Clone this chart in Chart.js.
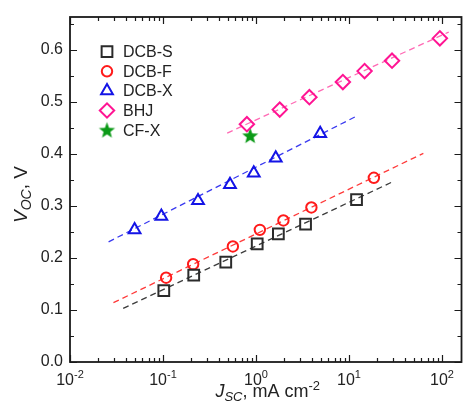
<!DOCTYPE html>
<html>
<head>
<meta charset="utf-8">
<script src="https://cdn.jsdelivr.net/npm/chart.js@4.4.1/dist/chart.umd.min.js"></script>
<style>
  html, body { margin: 0; padding: 0; background: #fff; }
</style>
</head>
<body>
<canvas id="vocChart" width="472" height="407"></canvas>
<script>
const FONT = '"Liberation Sans", Arial, sans-serif';

// short-circuit current density (mA cm-2) vs open-circuit voltage (V)
const dcbS_J = [0.102, 0.214, 0.473, 1.03, 1.74, 3.41, 12.05];
const dcbS_V = [0.137, 0.167, 0.192, 0.227, 0.246, 0.265, 0.312];
const dcbF_J = [0.108, 0.211, 0.564, 1.10, 1.97, 3.94, 18.5];
const dcbF_V = [0.162, 0.188, 0.222, 0.254, 0.272, 0.297, 0.354];
const dcbX_J = [0.0495, 0.096, 0.238, 0.525, 0.946, 1.63, 4.9];
const dcbX_V = [0.254, 0.280, 0.310, 0.341, 0.363, 0.392, 0.439];
const bhj_J = [0.798, 1.80, 3.75, 8.59, 14.7, 29.0, 94.8];
const bhj_V = [0.457, 0.485, 0.509, 0.538, 0.559, 0.579, 0.622];
const cfX_J = [0.865];
const cfX_V = [0.435];

// dashed guide lines (two end points each)
const fitS_J = [0.0373, 30];
const fitS_V = [0.103, 0.347];
const fitF_J = [0.0293, 63];
const fitF_V = [0.114, 0.401];
const fitX_J = [0.026, 11.9];
const fitX_V = [0.231, 0.472];
const fitB_J = [0.49, 118];
const fitB_V = [0.440, 0.634];

const xTickExp = [-2, -1, 0, 1, 2];
const yTickVals = [0, 0.1, 0.2, 0.3, 0.4, 0.5, 0.6];

function pts(xs, ys) {
    return xs.map((x, i) => ({ x: x, y: ys[i] }));
}

// filled five-point star for CF-X
function makeStar(r, color) {
    const s = Math.ceil(r * 2 + 2);
    const c = document.createElement('canvas');
    c.width = s;
    c.height = s;
    const g = c.getContext('2d');
    g.fillStyle = color;
    g.beginPath();
    for (let i = 0; i < 10; i++) {
        const rr = i % 2 === 0 ? r : r * 0.42;
        const a = -Math.PI / 2 + i * Math.PI / 5;
        const px = s / 2 + rr * Math.cos(a);
        const py = s / 2 + rr * Math.sin(a) + 0.6;
        if (i === 0) g.moveTo(px, py); else g.lineTo(px, py);
    }
    g.closePath();
    g.fill();
    return c;
}

function markerSet(label, xs, ys, color, style, radius) {
    return {
        label: label,
        data: pts(xs, ys),
        showLine: false,
        inLegend: true,
        pointStyle: style,
        pointRadius: radius,
        pointHoverRadius: radius,
        pointBorderColor: color,
        pointBackgroundColor: 'rgba(0,0,0,0)',
        pointBorderWidth: 2
    };
}

function fitSet(xs, ys, color) {
    return {
        label: '',
        data: pts(xs, ys),
        showLine: true,
        borderColor: color,
        borderWidth: 1.3,
        borderDash: [6, 4],
        pointRadius: 0,
        fill: false
    };
}

// inward ticks on all four sides, plus the frame
const axisFrame = {
    id: 'axisFrame',
    afterDatasetsDraw(chart) {
        const { ctx, chartArea: a, scales: { x, y } } = chart;
        ctx.save();
        ctx.strokeStyle = '#1a1a1a';
        ctx.lineWidth = 1.2;
        ctx.beginPath();
        for (let i = 0; i <= 13; i++) {
            const v = i * 0.05;
            if (v > y.max) break;
            const len = i % 2 === 0 ? 7 : 4;
            const py = Math.round(y.getPixelForValue(v)) + 0.5;
            ctx.moveTo(a.left, py); ctx.lineTo(a.left + len, py);
            ctx.moveTo(a.right, py); ctx.lineTo(a.right - len, py);
        }
        for (let e = -2; e <= 2; e++) {
            for (let m = 1; m <= 9; m++) {
                const v = m * Math.pow(10, e);
                if (v > x.max) break;
                const len = m === 1 ? 7 : 4;
                const px = Math.round(x.getPixelForValue(v)) + 0.5;
                ctx.moveTo(px, a.bottom); ctx.lineTo(px, a.bottom - len);
                ctx.moveTo(px, a.top); ctx.lineTo(px, a.top + len);
            }
        }
        ctx.stroke();
        ctx.lineWidth = 1.8;
        ctx.strokeRect(a.left, a.top, a.right - a.left, a.bottom - a.top);
        ctx.restore();
    }
};

// draws a run of text pieces: [text, size, italic, dy]
function drawRuns(ctx, runs, x, y, align) {
    const fontOf = r => (r[2] ? 'italic ' : '') + r[1] + 'px ' + FONT;
    let total = 0;
    runs.forEach(r => { ctx.font = fontOf(r); total += ctx.measureText(r[0]).width; });
    let cx = align === 'center' ? x - total / 2 : x;
    ctx.textAlign = 'left';
    ctx.textBaseline = 'alphabetic';
    runs.forEach(r => {
        ctx.font = fontOf(r);
        ctx.fillText(r[0], cx, y + r[3]);
        cx += ctx.measureText(r[0]).width;
    });
}

const labelsAndLegend = {
    id: 'labelsAndLegend',
    afterDraw(chart) {
        const { ctx, chartArea: a, scales: { x } } = chart;
        ctx.save();
        ctx.fillStyle = '#222';
        // x tick labels 10^n
        xTickExp.forEach(e => {
            const px = x.getPixelForValue(Math.pow(10, e));
            drawRuns(ctx, [['10', 16, false, 0], [String(e), 11, false, -7]], px, 385, 'center');
        });
        // x axis title
        drawRuns(ctx, [['J', 18, true, 0], ['SC', 13, true, 4], [', mA cm', 18, false, 0], ['-2', 13, false, -7]],
            (a.left + a.right) / 2 + 2, 397, 'center');
        // y axis title
        ctx.translate(27, (a.top + a.bottom) / 2 + 5);
        ctx.rotate(-Math.PI / 2);
        drawRuns(ctx, [['V', 19, true, 0], ['OC', 14, true, 4], [', V', 19, false, 0]], 0, 0, 'center');
        ctx.restore();

        // legend
        ctx.save();
        chart.data.datasets.filter(d => d.inLegend).forEach((d, i) => {
            const ly = 51.7 + i * 19.6;
            ctx.strokeStyle = d.pointBorderColor;
            ctx.fillStyle = d.pointBackgroundColor;
            ctx.lineWidth = d.pointBorderWidth;
            Chart.helpers.drawPoint(ctx, {
                pointStyle: d.pointStyle, radius: d.pointRadius,
                borderWidth: d.pointBorderWidth, rotation: 0
            }, 107, ly);
            ctx.fillStyle = '#222';
            ctx.font = '16px ' + FONT;
            ctx.textAlign = 'left';
            ctx.textBaseline = 'middle';
            ctx.fillText(d.label, 123, ly + 1);
        });
        ctx.restore();
    }
};

const star = makeStar(8.5, '#0b9a17');

new Chart(document.getElementById('vocChart'), {
    type: 'scatter',
    data: {
        datasets: [
            markerSet('DCB-S', dcbS_J, dcbS_V, '#2b2b2b', 'rect', 7.6),
            markerSet('DCB-F', dcbF_J, dcbF_V, '#ff1a1a', 'circle', 5.2),
            markerSet('DCB-X', dcbX_J, dcbX_V, '#1414e6', 'triangle', 6.8),
            markerSet('BHJ', bhj_J, bhj_V, '#ff1493', 'rectRot', 7.2),
            markerSet('CF-X', cfX_J, cfX_V, '#0b9a17', star, 8.5),
            fitSet(fitS_J, fitS_V, '#3c3c3c'),
            fitSet(fitF_J, fitF_V, '#ff3a3a'),
            fitSet(fitX_J, fitX_V, '#3a3af0'),
            fitSet(fitB_J, fitB_V, '#ff6ab4')
        ]
    },
    options: {
        responsive: false,
        animation: false,
        layout: { padding: { top: 17, right: 0, left: 0, bottom: 0 } },
        plugins: {
            legend: { display: false },
            tooltip: { enabled: false }
        },
        scales: {
            x: {
                type: 'logarithmic',
                min: 0.01,
                max: 162,
                grid: { display: false, drawTicks: false },
                border: { display: false },
                ticks: { display: false },
                afterFit(scale) { scale.height = 45; }
            },
            y: {
                min: 0,
                max: 0.663,
                grid: { display: false, drawTicks: false },
                border: { display: false },
                ticks: {
                    stepSize: 0.1,
                    padding: 7,
                    color: '#222',
                    font: { family: FONT, size: 16 },
                    callback: v => v.toFixed(1)
                },
                afterBuildTicks(scale) {
                    scale.ticks = yTickVals.map(v => ({ value: v }));
                },
                afterFit(scale) { scale.width = 70; }
            }
        }
    },
    plugins: [axisFrame, labelsAndLegend]
});
</script>
</body>
</html>
